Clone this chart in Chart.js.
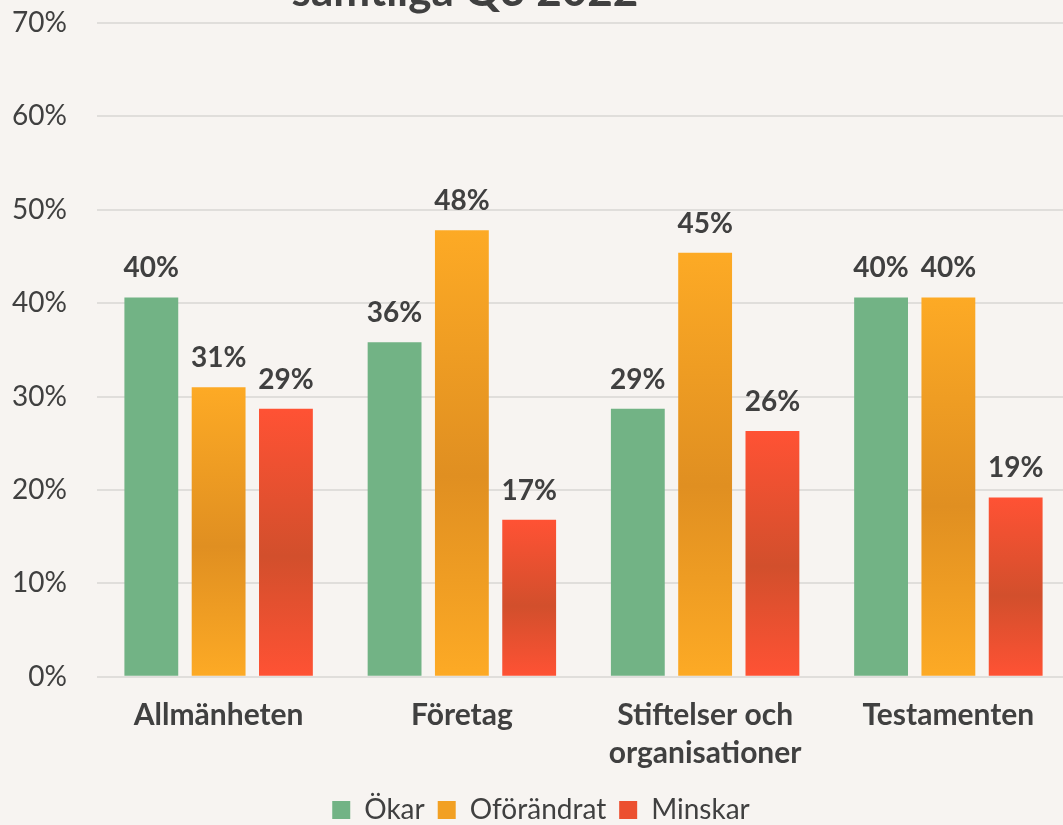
<!DOCTYPE html>
<html>
<head>
<meta charset="utf-8">
<script src="https://cdn.jsdelivr.net/npm/chart.js@4"></script>
<style>
  html, body { margin: 0; padding: 0; background: #f7f4f1; overflow: hidden; }
  #wrap { position: absolute; left: 0; top: -24px; width: 1070px; height: 885px; }
  #titel {
    position: absolute; left: 165px; top: -33px; width: 600px;
    text-align: center; font: bold 44px/44px Lato, "Open Sans", sans-serif;
    color: #404040; white-space: nowrap;
  }
</style>
</head>
<body>
<div id="wrap"><canvas id="grafico"></canvas></div>
<div id="titel">samtliga Q3 2022</div>
<script>
const kategorier = ['Allmänheten', 'Företag', ['Stiftelser och', 'organisationer'], 'Testamenten'];
const okar = [40.6, 35.8, 28.7, 40.6];
const oforandrat = [31.0, 47.8, 45.4, 40.6];
const minskar = [28.7, 16.8, 26.3, 19.2];
const etiketter = [
    ['40%', '36%', '29%', '40%'],
    ['31%', '48%', '45%', '40%'],
    ['29%', '17%', '26%', '19%']
];

const textfarg = '#404040';
const typsnitt = 'Lato, "Open Sans", sans-serif';

// vertikal gradient per stapel: ljus i kanterna, mörkare i mitten
function gradient(ljus, mork) {
    return function (ctx) {
        const chart = ctx.chart;
        const y = chart.scales.y;
        if (!y || ctx.raw === undefined) return ljus;
        const topp = y.getPixelForValue(ctx.raw);
        const bas = y.getPixelForValue(0);
        if (!isFinite(topp) || !isFinite(bas) || bas - topp < 1) return ljus;
        const g = chart.ctx.createLinearGradient(0, topp, 0, bas);
        g.addColorStop(0, ljus);
        g.addColorStop(0.55, mork);
        g.addColorStop(1, ljus);
        return g;
    };
}

// enkla dataetiketter ovanför staplarna
const stapelEtiketter = {
    id: 'stapelEtiketter',
    afterDatasetsDraw(chart) {
        const ctx = chart.ctx;
        ctx.save();
        ctx.font = 'bold 28px ' + typsnitt;
        ctx.fillStyle = textfarg;
        ctx.textAlign = 'center';
        ctx.textBaseline = 'alphabetic';
        chart.data.datasets.forEach((ds, i) => {
            chart.getDatasetMeta(i).data.forEach((el, j) => {
                ctx.fillText(etiketter[i][j], el.x, el.y - 20);
            });
        });
        ctx.restore();
    }
};

new Chart(document.getElementById('grafico'), {
    type: 'bar',
    data: {
        labels: kategorier,
        datasets: [
            { label: 'Ökar', data: okar, backgroundColor: '#72b385' },
            { label: 'Oförändrat', data: oforandrat, backgroundColor: gradient('#fdaa25', '#e08f21') },
            { label: 'Minskar', data: minskar, backgroundColor: gradient('#ff5234', '#d24f2c') }
        ]
    },
    options: {
        responsive: true,
        maintainAspectRatio: false,
        animation: false,
        categoryPercentage: 0.83,
        barPercentage: 0.8,
        layout: { autoPadding: false, padding: { left: 12, right: 0, top: 22, bottom: 27 } },
        plugins: {
            legend: {
                position: 'bottom',
                labels: {
                    color: textfarg,
                    font: { family: typsnitt, size: 28 },
                    boxWidth: 18,
                    boxHeight: 18,
                    padding: 13,
                    generateLabels(chart) {
                        const farger = ['#72b385', '#f2a023', '#ec5030'];
                        return chart.data.datasets.map((ds, i) => ({
                            text: ds.label,
                            fillStyle: farger[i],
                            strokeStyle: farger[i],
                            lineWidth: 0,
                            fontColor: textfarg,
                            datasetIndex: i
                        }));
                    }
                }
            },
            tooltip: { enabled: false }
        },
        scales: {
            x: {
                grid: { display: false },
                border: { display: false },
                ticks: {
                    color: textfarg,
                    font: { family: typsnitt, size: 30, weight: 'bold', lineHeight: 1.27 },
                    padding: 11
                }
            },
            y: {
                min: 0,
                max: 70,
                border: { display: false },
                grid: { color: '#e0dedb', lineWidth: 2, drawTicks: false },
                ticks: {
                    stepSize: 10,
                    color: textfarg,
                    font: { family: typsnitt, size: 28 },
                    padding: 30,
                    callback: v => v + '%'
                },
                afterFit(skala) { skala.width = 85; }
            }
        }
    },
    plugins: [stapelEtiketter]
});
</script>
</body>
</html>
